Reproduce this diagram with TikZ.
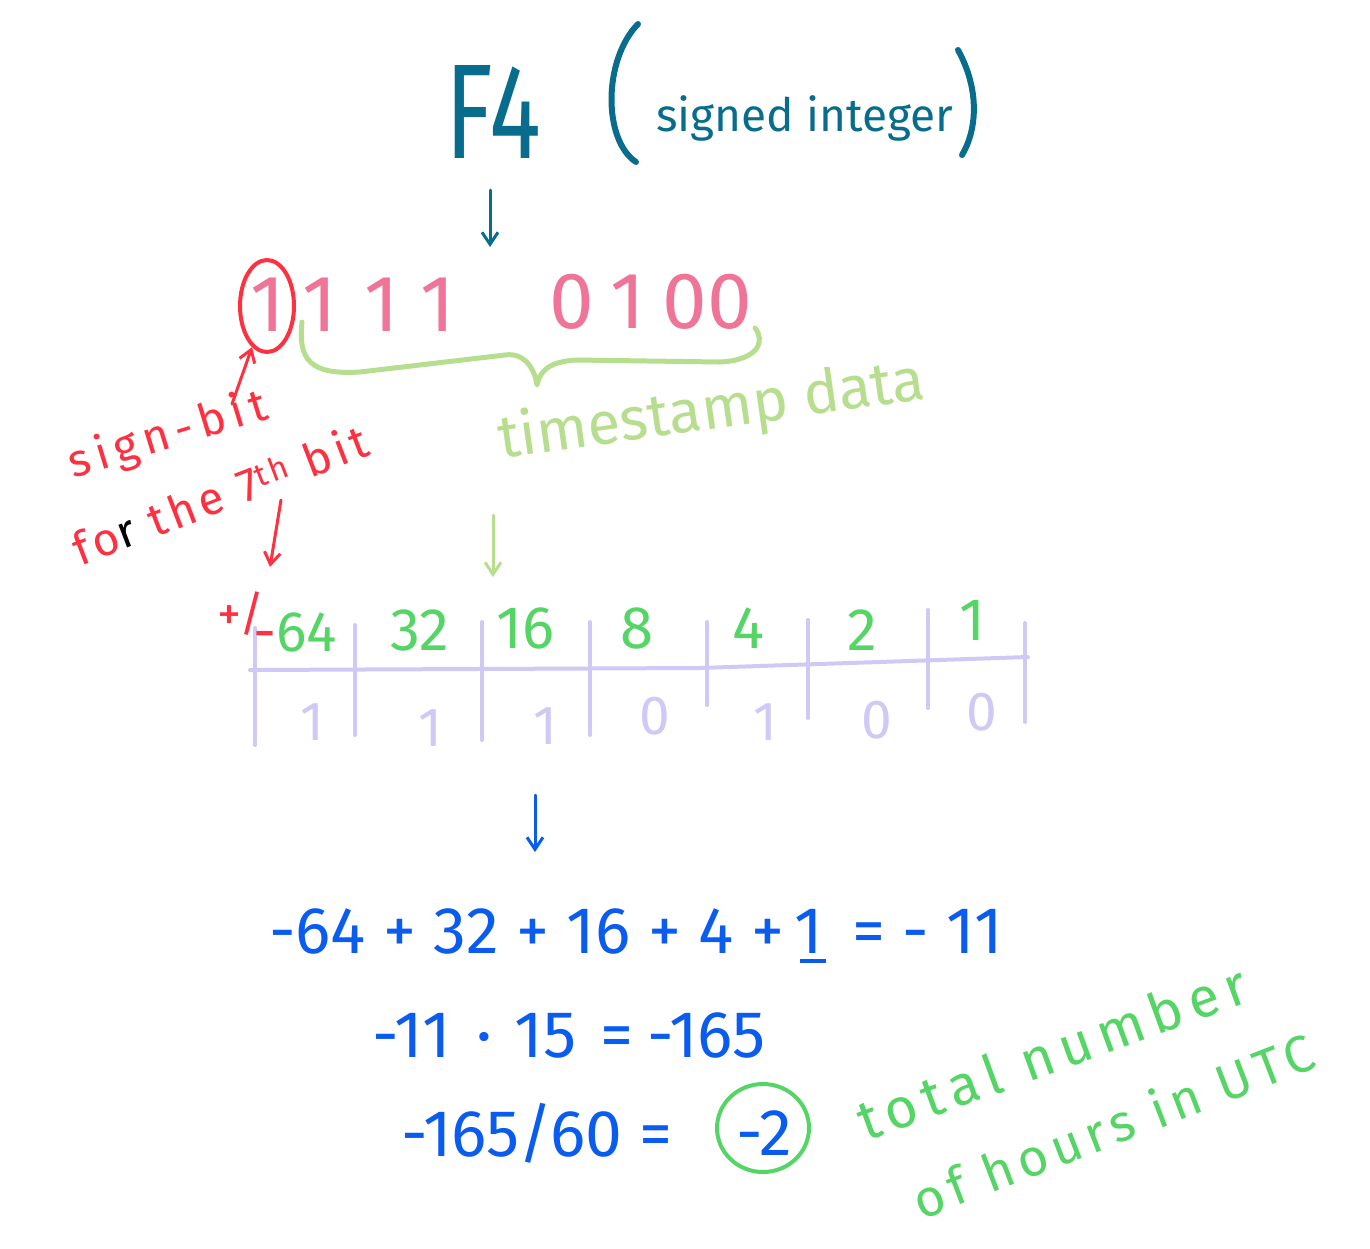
\documentclass[tikz,border=0pt]{standalone}
\usepackage{fontspec}
\setmainfont{Fira Sans}
\usetikzlibrary{arrows.meta,shapes.geometric}
\definecolor{tealc}{RGB}{8,109,140}
\definecolor{pinkc}{RGB}{240,115,152}
\definecolor{redc}{RGB}{255,48,64}
\definecolor{lgreenc}{RGB}{183,222,142}
\definecolor{greenc}{RGB}{85,213,102}
\definecolor{lavc}{RGB}{208,200,245}
\definecolor{bluec}{RGB}{10,92,240}
\newcommand{\fsz}[1]{\fontsize{#1}{#1}\selectfont}
\newcommand{\spaced}[1]{\addfontfeature{LetterSpace=#1}}
\begin{document}
\begin{tikzpicture}[x=1pt,y=-1pt,line cap=round,line join=round,
  arr/.style={line width=3pt,-{Straight Barb[length=12pt,width=16pt]}},
  bit/.style={pinkc,font=\fsz{80},inner sep=0pt},
  wt/.style={greenc,font=\fsz{60},inner sep=0pt},
  bv/.style={lavc,font=\fsz{55},inner sep=0pt},
  eq/.style={bluec,font=\fsz{66},inner sep=0pt},
  tick/.style={lavc,line width=4pt}]
\useasboundingbox (0,0) rectangle (1370,1248);
% title
\node[tealc,font=\fsz{135},inner sep=0pt,xscale=0.72] (f4) at (493,112) {F4};
\node[tealc,font=\fsz{46},inner sep=0pt] (signed) at (805,118) {signed integer};
\draw[tealc,line width=6pt] (638,24) .. controls (603,60) and (603,140) .. (636,162);
\draw[tealc,line width=6pt] (958,50) .. controls (980,90) and (977,130) .. (962,155);
\coordinate (a1s) at (490,190);
\coordinate (a1e) at (490,247);
\draw[tealc,arr] (a1s) -- (a1e);
% bits
\node[bit] (b1) at (268,305) {1};
\node[bit] (b2) at (320,305) {1};
\node[bit] (b3) at (382,305) {1};
\node[bit] (b4) at (438,305) {1};
\node[bit] (b5) at (572,302) {0};
\node[bit] (b6) at (628,302) {1};
\node[bit] (b7) at (685,302) {0};
\node[bit] (b8) at (730,302) {0};
\node[ellipse,draw=redc,line width=4pt,minimum width=54,minimum height=92,inner sep=0pt] (sc) at (267,306) {};
% brace
\draw[lgreenc,line width=5pt] (302,322) .. controls (298,360) and (310,375) .. (360,372) -- (505,355) .. controls (525,352) and (535,370) .. (537,385) .. controls (540,370) and (550,362) .. (575,360) -- (720,362) .. controls (760,360) and (765,340) .. (755,328);
\node[lgreenc,font=\fsz{60},rotate=8,inner sep=0pt] (ts) at (712,412) {timestamp data};
% sign bit labels
\node[redc,font=\fsz{46}\spaced{14},rotate=17,inner sep=0pt] (sb) at (168,436) {sign-bit};
\node[redc,font=\fsz{46}\spaced{10},rotate=21,inner sep=0pt] (ft) at (220,494) {fo\textcolor{black}{r} the 7\textsuperscript{th} bit};
\coordinate (a2s) at (232,404);
\draw[redc,arr] (a2s) -- (sc.250);
\coordinate (a3s) at (281,500);
\coordinate (a3e) at (270,567);
\draw[redc,arr] (a3s) -- (a3e);
\coordinate (a4s) at (493,515);
\coordinate (a4e) at (493,577);
\draw[lgreenc,arr] (a4s) -- (a4e);
% table
\coordinate (hl) at (250,670);
\coordinate (hm) at (700,668);
\coordinate (hr) at (1028,657);
\draw[tick] (hl) -- (hm) -- (hr);
\foreach \x/\t/\b [count=\i] in {255/628/745,355/625/735,482/622/740,590/622/735,707/622/705,808/620/718,928/610/708,1025/623/722}
  \draw[tick] (\x,\t) -- (\x,\b);
\node[redc,font=\fsz{48},inner sep=0pt] (pm) at (241,614) {+/};
\node[wt,font=\fsz{57}] (w64) at (295,632) {\textcolor{redc}{-}64};
\node[wt] (w32) at (420,630) {32};
\node[wt] (w16) at (525,628) {16};
\node[wt] (w8) at (637,628) {8};
\node[wt] (w4) at (748,628) {4};
\node[wt] (w2) at (862,630) {2};
\node[wt] (w1) at (972,620) {1};
\node[bv] (v1) at (312,722) {1};
\node[bv] (v2) at (430,728) {1};
\node[bv] (v3) at (545,726) {1};
\node[bv] (v4) at (655,716) {0};
\node[bv] (v5) at (765,722) {1};
\node[bv] (v6) at (877,720) {0};
\node[bv] (v7) at (982,712) {0};
\coordinate (a5s) at (535,795);
\coordinate (a5e) at (535,852);
\draw[bluec,arr] (a5s) -- (a5e);
% equations
\node[eq] (e1) at (636,936) {-64 + 32 + 16 + 4 +\,\makebox[0pt][l]{\hspace{5pt}\rule[-9pt]{26pt}{4pt}}1\, = - 11};
\node[eq] (e2) at (569,1035) {-11\hspace{26pt}·\hspace{22pt}15\hspace{24pt}=\hspace{14pt}-165};
\node[eq] (e3) at (537,1133) {-165/60 =};
\node[eq] (e4) at (764,1133) {-2};
\node[ellipse,draw=greenc,line width=4pt,minimum width=92,minimum height=88,inner sep=0pt] (rc) at (763,1128) {};
\node[greenc,font=\fsz{56}\spaced{14},rotate=20,inner sep=0pt] (tn) at (1052,1052) {total number};
\node[greenc,font=\fsz{52}\spaced{12},rotate=21,inner sep=0pt] (oh) at (1113,1125) {of hours in UTC};
\end{tikzpicture}
\end{document}
